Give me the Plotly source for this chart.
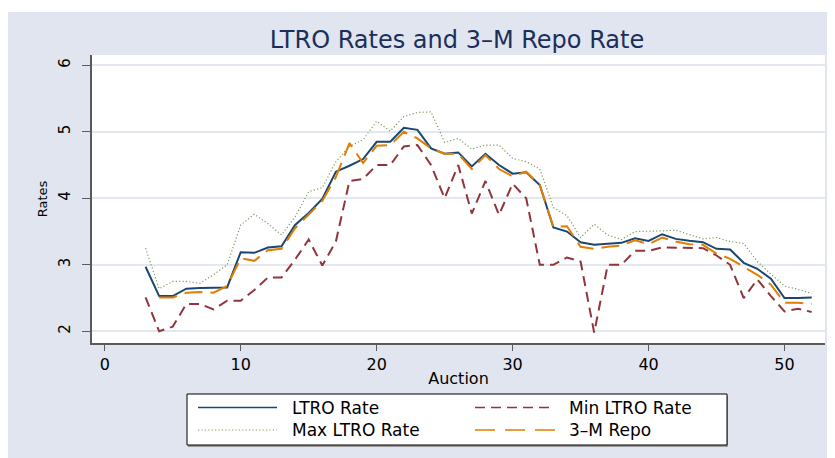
import plotly.graph_objects as go

# ---------------- data ----------------
auction = list(range(3, 53))

ltro_rate = [2.97, 2.53, 2.53, 2.64, 2.65, 2.65, 2.66, 3.19, 3.18, 3.26,
             3.28, 3.60, 3.78, 3.99, 4.40, 4.49, 4.59, 4.85, 4.85, 5.06,
             5.03, 4.75, 4.67, 4.69, 4.48, 4.67, 4.50, 4.37, 4.39, 4.20,
             3.56, 3.50, 3.34, 3.30, 3.32, 3.33, 3.40, 3.36, 3.46, 3.39,
             3.36, 3.34, 3.24, 3.23, 3.03, 2.94, 2.79, 2.50, 2.50, 2.51]

min_ltro_rate = [2.51, 2.00, 2.07, 2.41, 2.41, 2.33, 2.46, 2.46, 2.62, 2.81,
                 2.81, 3.08, 3.38, 2.99, 3.35, 4.26, 4.29, 4.50, 4.50, 4.78,
                 4.80, 4.50, 4.00, 4.50, 3.77, 4.26, 3.75, 4.22, 4.00, 3.00,
                 3.00, 3.11, 3.05, 1.98, 3.00, 3.00, 3.21, 3.21, 3.26, 3.26,
                 3.25, 3.25, 3.14, 3.00, 2.50, 2.78, 2.53, 2.30, 2.34, 2.29]

max_ltro_rate = [3.25, 2.64, 2.75, 2.75, 2.72, 2.85, 3.00, 3.60, 3.76, 3.62,
                 3.45, 3.72, 4.10, 4.16, 4.55, 4.78, 4.88, 5.16, 5.01, 5.23,
                 5.29, 5.30, 4.84, 4.90, 4.74, 4.80, 4.80, 4.60, 4.55, 4.44,
                 3.86, 3.74, 3.41, 3.61, 3.45, 3.38, 3.50, 3.50, 3.51, 3.52,
                 3.46, 3.39, 3.41, 3.35, 3.32, 3.05, 2.86, 2.68, 2.63, 2.57]

repo_3m = [None, 2.51, 2.51, 2.58, 2.59, 2.58, 2.68, 3.10, 3.06, 3.22,
           3.24, 3.55, 3.75, 3.96, 4.32, 4.83, 4.53, 4.79, 4.80, 5.00,
           4.90, 4.75, 4.67, 4.67, 4.44, 4.65, 4.44, 4.33, 4.40, 4.20,
           3.57, 3.58, 3.27, 3.24, 3.27, 3.29, 3.37, 3.31, 3.41, 3.35,
           3.31, 3.30, 3.17, 3.09, 2.97, 2.85, 2.70, 2.43, 2.43, 2.41]

x_ticks = [0, 10, 20, 30, 40, 50]
y_ticks = [2, 3, 4, 5, 6]

series_names = ["LTRO Rate", "Min LTRO Rate", "Max LTRO Rate", "3\u2013M Repo"]

# ---------------- styles ----------------
FONT = "DejaVu Sans"
C_NAVY = "#1a476f"
C_MAROON = "#90353b"
C_GREEN = "#7f9a5c"
C_ORANGE = "#e37e00"
BG = "#e0e5ef"

styles = {
    "LTRO Rate": dict(color=C_NAVY, width=2, dash="solid"),
    "Min LTRO Rate": dict(color=C_MAROON, width=2, dash="10px,6px"),
    "Max LTRO Rate": dict(color=C_GREEN, width=1.2, dash="1.2px,2.2px"),
    "3\u2013M Repo": dict(color=C_ORANGE, width=2, dash="18px,8px"),
}
legend_dash = {
    "LTRO Rate": "solid",
    "Min LTRO Rate": "10px,6px",
    "Max LTRO Rate": "1.2px,2.2px",
    "3\u2013M Repo": "20px,10px",
}
values = {
    "LTRO Rate": ltro_rate,
    "Min LTRO Rate": min_ltro_rate,
    "Max LTRO Rate": max_ltro_rate,
    "3\u2013M Repo": repo_3m,
}

fig = go.Figure()
for name in ["Max LTRO Rate", "Min LTRO Rate", "LTRO Rate", "3\u2013M Repo"]:
    fig.add_trace(go.Scatter(
        x=auction, y=values[name], mode="lines", name=name,
        line=styles[name], connectgaps=False, showlegend=False,
    ))

# ---------------- layout geometry ----------------
# page coordinates of the reference; the html body adds an 8px offset
OFF = 8
W, H = 835, 458
PL, PR, PT, PB = 92, 825, 55, 343          # plot area in page pixels
L, T = PL - OFF, PT - OFF
R = W - (PR - OFF)
B = H - (PB - OFF)
PW = W - L - R
PH = H - T - B


def px_x(px):
    return (px - OFF - L) / PW


def px_y(py):
    return (H - B - (py - OFF)) / PH


shapes = []
# thin white strip at the top of the graph region
shapes.append(dict(type="rect", xref="paper", yref="paper",
                   x0=px_x(-20), x1=px_x(W + 20), y0=px_y(12), y1=px_y(-20),
                   fillcolor="white", line=dict(width=0), layer="below"))

# custom legend box
lx0, lx1, ly0, ly1 = 187, 727, 394, 445
shapes.append(dict(type="rect", xref="paper", yref="paper",
                   x0=px_x(lx0 + 1), x1=px_x(lx1 + 1), y0=px_y(ly1 + 2), y1=px_y(ly0 + 2),
                   fillcolor="#9a9a9a", line=dict(width=0)))
shapes.append(dict(type="rect", xref="paper", yref="paper",
                   x0=px_x(lx0), x1=px_x(lx1), y0=px_y(ly1), y1=px_y(ly0),
                   fillcolor="white", line=dict(color="black", width=1)))

legend_items = [
    ("LTRO Rate", 198, 277, 290, 407.5),
    ("Max LTRO Rate", 198, 277, 290, 430),
    ("Min LTRO Rate", 475, 555, 567, 407.5),
    ("3\u2013M Repo", 475, 555, 567, 430),
]
annotations = []
for name, sx0, sx1, tx, ty in legend_items:
    st = styles[name]
    shapes.append(dict(type="line", xref="paper", yref="paper",
                       x0=px_x(sx0), x1=px_x(sx1), y0=px_y(ty), y1=px_y(ty),
                       line=dict(color=st["color"], width=min(st["width"], 1.6),
                                 dash=legend_dash[name])))
    annotations.append(dict(text=name, xref="paper", yref="paper",
                            x=px_x(tx), y=px_y(ty), xanchor="left", yanchor="middle",
                            showarrow=False, font=dict(family=FONT, size=17, color="black")))

fig.update_layout(
    width=W, height=H,
    margin=dict(l=L, r=R, t=T, b=B, pad=0),
    paper_bgcolor=BG,
    plot_bgcolor="white",
    font=dict(family=FONT, color="black"),
    title=dict(text="LTRO Rates and 3\u2013M Repo Rate", x=px_x(457), xref="paper", xanchor="center",
               y=1 - (40 - OFF) / H, yref="container", yanchor="middle",
               font=dict(family=FONT, size=24, color="#1c2f5a")),
    shapes=shapes,
    annotations=annotations,
    showlegend=False,
    xaxis=dict(
        range=[-0.94, 52.98], tickvals=x_ticks, ticktext=[str(v) for v in x_ticks],
        showgrid=False, zeroline=False,
        showline=True, linecolor="#5a5a5a", linewidth=1.5,
        ticks="outside", ticklen=6, tickwidth=1, tickcolor="#5a5a5a",
        tickfont=dict(family=FONT, size=16, color="black"),
        title=dict(text="Auction", font=dict(family=FONT, size=16, color="black"), standoff=0),
    ),
    yaxis=dict(
        range=[1.824, 6.155], tickvals=y_ticks, ticktext=[str(v) for v in y_ticks],
        showgrid=True, gridcolor="#e3e7ef", gridwidth=1.5, zeroline=False,
        showline=True, linecolor="#5a5a5a", linewidth=1.5,
        ticks="outside", ticklen=8, tickwidth=1, tickcolor="#5a5a5a",
        tickangle=-90, ticklabelstandoff=6,
        tickfont=dict(family=FONT, size=15, color="black"),
        title=dict(text="Rates", font=dict(family=FONT, size=13, color="black"), standoff=6),
    ),
)

fig.write_html("out.html")
